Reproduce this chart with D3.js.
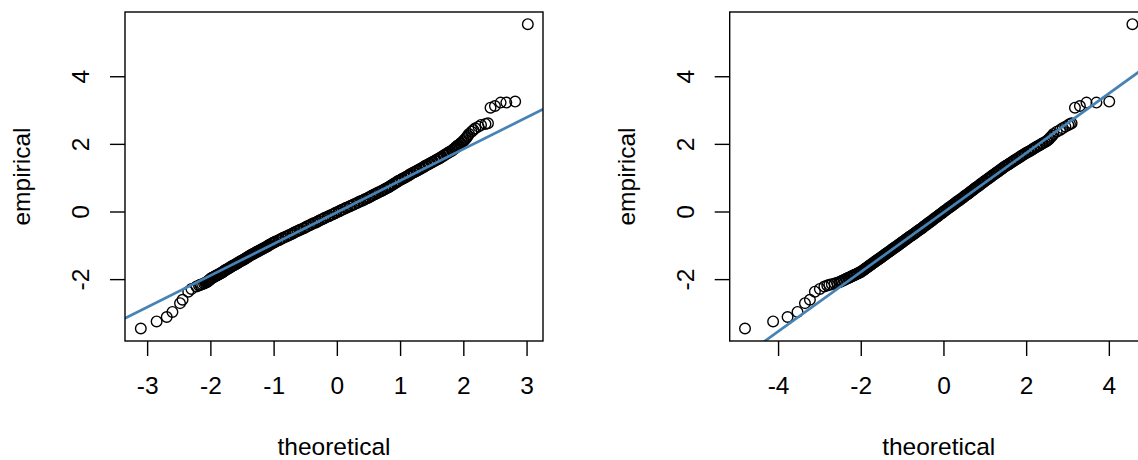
<!DOCTYPE html>
<html>
<head>
<meta charset="utf-8">
<script src="https://cdn.jsdelivr.net/npm/d3@7"></script>
<style>
  html, body { margin: 0; padding: 0; background: #fff; }
  svg { display: block; }
  text { font-family: "Liberation Sans", Arial, Helvetica, sans-serif; fill: #000; }
</style>
</head>
<body>
<svg id="chart" width="1138" height="460"></svg>
<script>
// ---- data (sorted empirical sample, with theoretical quantiles for each panel) ----
const empirical = [
  -3.46,-3.25,-3.12,-2.97,-2.71,-2.61,-2.37,-2.29,-2.22,-2.19,-2.17,-2.15,
  -2.13,-2.11,-2.09,-2.08,-2.06,-2.05,-2.03,-2.02,-2.00,-1.99,-1.97,-1.96,-1.95,-1.93,-1.92,-1.91,-1.89,-1.88,-1.87,-1.85,-1.84,-1.83,-1.81,-1.80,
  -1.78,-1.76,-1.74,-1.72,-1.70,-1.68,-1.66,-1.64,-1.62,-1.60,
  -1.58,-1.56,-1.54,-1.52,-1.50,-1.48,-1.46,-1.44,-1.42,-1.40,
  -1.38,-1.36,-1.34,-1.32,-1.30,-1.28,-1.26,-1.24,-1.22,-1.20,
  -1.18,-1.16,-1.14,-1.12,-1.10,-1.08,-1.06,-1.04,-1.02,-1.00,
  -0.98,-0.96,-0.94,-0.92,-0.90,
  -0.88,-0.85,-0.83,-0.80,-0.78,-0.75,-0.73,-0.70,-0.68,-0.65,
  -0.63,-0.60,-0.58,-0.55,-0.53,-0.50,-0.48,-0.45,-0.43,-0.40,
  -0.38,-0.35,-0.33,-0.30,-0.28,-0.25,-0.23,-0.20,-0.18,-0.15,
  -0.13,-0.10,-0.08,-0.05,-0.03,0.00,0.02,0.05,0.07,0.10,
  0.12,0.15,0.17,0.20,0.22,0.25,0.27,0.30,0.32,0.35,
  0.37,0.40,0.42,0.45,0.47,0.50,0.52,0.55,0.57,0.60,
  0.62,0.65,0.67,0.70,0.72,0.75,0.77,0.80,0.82,0.85,
  0.87,0.90,
  0.92,0.95,0.97,1.00,1.02,1.05,1.07,1.10,1.12,1.15,
  1.17,1.20,1.22,1.25,1.27,1.30,1.32,1.35,1.37,1.40,
  1.42,1.45,1.47,1.50,1.52,1.55,1.57,1.60,1.62,1.65,
  1.67,1.70,1.72,1.75,1.77,1.80,1.82,1.85,1.87,1.90,
  1.92,1.95,1.97,2.00,2.02,2.05,2.08,2.11,2.14,2.17,
  2.20,2.24,
  2.29,2.36,2.41,2.46,2.51,2.56,2.59,2.61,3.07,3.12,3.22,3.22,3.25,5.54
];
const theoreticalLeft = [
  -3.10,-2.85,-2.69,-2.60,-2.48,-2.44,-2.35,-2.30,-2.22,-2.18,-2.16,-2.13,
  -2.10,-2.08,-2.06,-2.05,-2.04,-2.03,-2.02,-2.01,-2.00,-1.99,-1.98,-1.97,-1.96,-1.94,-1.93,-1.92,-1.90,-1.89,-1.88,-1.86,-1.85,-1.84,-1.82,-1.81,
  -1.80,-1.78,-1.77,-1.75,-1.73,-1.71,-1.69,-1.68,-1.66,-1.64,
  -1.62,-1.60,-1.58,-1.57,-1.55,-1.53,-1.51,-1.49,-1.47,-1.45,
  -1.44,-1.42,-1.40,-1.39,-1.37,-1.35,-1.33,-1.31,-1.29,-1.27,
  -1.25,-1.23,-1.21,-1.19,-1.17,-1.15,-1.13,-1.11,-1.09,-1.08,
  -1.06,-1.04,-1.02,-1.00,-0.98,
  -0.96,-0.92,-0.90,-0.87,-0.85,-0.81,-0.79,-0.76,-0.73,-0.70,
  -0.68,-0.65,-0.62,-0.59,-0.57,-0.53,-0.51,-0.48,-0.46,-0.42,
  -0.40,-0.37,-0.34,-0.31,-0.29,-0.26,-0.23,-0.20,-0.18,-0.14,
  -0.12,-0.09,-0.06,-0.03,-0.01,0.03,0.05,0.08,0.11,0.14,
  0.16,0.20,0.22,0.26,0.28,0.32,0.34,0.37,0.40,0.43,
  0.45,0.49,0.51,0.54,0.56,0.59,0.61,0.64,0.66,0.70,
  0.72,0.75,0.77,0.80,0.82,0.84,0.86,0.89,0.90,0.93,
  0.95,0.97,
  0.99,1.02,1.04,1.07,1.09,1.12,1.14,1.16,1.18,1.21,
  1.23,1.26,1.28,1.31,1.33,1.36,1.38,1.40,1.42,1.45,
  1.47,1.50,1.52,1.55,1.57,1.60,1.62,1.64,1.66,1.69,
  1.70,1.73,1.75,1.77,1.79,1.82,1.83,1.85,1.87,1.88,
  1.90,1.91,1.93,1.95,1.96,1.98,2.00,2.01,2.03,2.04,
  2.06,2.07,
  2.09,2.13,2.16,2.19,2.24,2.28,2.35,2.39,2.43,2.50,2.59,2.68,2.82,3.02
];
const theoreticalRight = [
  -4.80,-4.12,-3.77,-3.53,-3.35,-3.23,-3.11,-2.99,-2.88,-2.81,-2.76,-2.70,
  -2.63,-2.57,-2.52,-2.50,-2.47,-2.45,-2.41,-2.40,-2.36,-2.35,-2.31,-2.29,-2.28,-2.24,-2.23,-2.21,-2.17,-2.16,-2.14,-2.10,-2.09,-2.07,-2.03,-2.02,
  -1.99,-1.97,-1.94,-1.92,-1.90,-1.88,-1.85,-1.83,-1.81,-1.79,
  -1.76,-1.74,-1.72,-1.70,-1.67,-1.65,-1.63,-1.60,-1.58,-1.56,
  -1.53,-1.51,-1.49,-1.47,-1.44,-1.42,-1.40,-1.38,-1.35,-1.33,
  -1.31,-1.28,-1.26,-1.24,-1.22,-1.19,-1.17,-1.15,-1.12,-1.10,
  -1.08,-1.06,-1.03,-1.01,-0.99,
  -0.97,-0.93,-0.91,-0.88,-0.85,-0.82,-0.80,-0.76,-0.74,-0.70,
  -0.68,-0.65,-0.62,-0.59,-0.57,-0.53,-0.51,-0.48,-0.46,-0.42,
  -0.40,-0.37,-0.35,-0.32,-0.29,-0.26,-0.24,-0.21,-0.18,-0.15,
  -0.13,-0.10,-0.08,-0.04,-0.02,0.01,0.03,0.07,0.09,0.12,
  0.14,0.18,0.20,0.23,0.26,0.29,0.31,0.34,0.37,0.40,
  0.42,0.46,0.48,0.51,0.53,0.57,0.59,0.62,0.64,0.67,
  0.70,0.73,0.75,0.78,0.80,0.84,0.86,0.89,0.91,0.95,
  0.97,1.00,
  1.02,1.06,1.08,1.11,1.14,1.17,1.19,1.23,1.25,1.28,
  1.31,1.34,1.36,1.40,1.42,1.45,1.48,1.51,1.54,1.58,
  1.60,1.64,1.67,1.70,1.73,1.77,1.79,1.83,1.86,1.89,
  1.92,1.96,1.99,2.03,2.06,2.10,2.13,2.17,2.19,2.24,
  2.26,2.31,2.33,2.38,2.40,2.45,2.49,2.52,2.55,2.57,
  2.60,2.63,
  2.66,2.74,2.82,2.88,2.95,3.02,3.06,3.10,3.18,3.30,3.46,3.70,4.01,4.57
];
// reference lines: [intercept, slope]
const lineLeft = [-0.025, 0.935];
const lineRight = [-0.03, 0.88];
// axis ticks
const xTicksLeft = [-3, -2, -1, 0, 1, 2, 3];
const xTicksRight = [-4, -2, 0, 2, 4];
const yTicks = [-2, 0, 2, 4];
const xLabel = "theoretical";
const yLabel = "empirical";

// ---- drawing ----
const svg = d3.select("#chart");
const plotTop = 12, plotBottom = 341;
const y = d3.scaleLinear().domain([-3.83, 5.90]).range([plotBottom, plotTop]);

const panels = [
  { left: 125, right: 543, domain: [-3.35, 3.26], theo: theoreticalLeft, ticks: xTicksLeft, line: lineLeft },
  { left: 729.7, right: 1147.7, domain: [-5.17, 4.94], theo: theoreticalRight, ticks: xTicksRight, line: lineRight }
];

const fontSize = 24.5;
const fmt = d => d < 0 ? "-" + Math.abs(d) : String(d);

panels.forEach((p, i) => {
  const x = d3.scaleLinear().domain(p.domain).range([p.left, p.right]);
  const g = svg.append("g");
  const clipId = "clip" + i;
  svg.append("defs").append("clipPath").attr("id", clipId)
    .append("rect").attr("x", p.left).attr("y", plotTop)
    .attr("width", p.right - p.left).attr("height", plotBottom - plotTop);

  // points
  const n = Math.min(empirical.length, p.theo.length);
  g.append("g")
    .selectAll("circle")
    .data(d3.range(n))
    .join("circle")
    .attr("cx", k => x(p.theo[k]))
    .attr("cy", k => y(empirical[k]))
    .attr("r", 5.3)
    .attr("fill", "none")
    .attr("stroke", "#000")
    .attr("stroke-width", 1.4);

  // reference line
  const [a, b] = p.line;
  g.append("line")
    .attr("clip-path", `url(#${clipId})`)
    .attr("x1", x(p.domain[0])).attr("y1", y(a + b * p.domain[0]))
    .attr("x2", x(p.domain[1])).attr("y2", y(a + b * p.domain[1]))
    .attr("stroke", "#4682B4")
    .attr("stroke-width", 2.7);

  // box
  g.append("rect")
    .attr("x", p.left).attr("y", plotTop)
    .attr("width", p.right - p.left).attr("height", plotBottom - plotTop)
    .attr("fill", "none").attr("stroke", "#000").attr("stroke-width", 1.4);

  // x axis
  const xAxis = d3.axisBottom(x).tickValues(p.ticks).tickSize(15).tickPadding(21)
    .tickFormat(fmt);
  const gx = g.append("g").attr("transform", `translate(0,${plotBottom})`).call(xAxis);
  gx.select(".domain").remove();
  gx.selectAll(".tick line").attr("stroke", "#000").attr("stroke-width", 1.4);
  gx.selectAll(".tick text").attr("font-size", fontSize);

  // y axis
  const yAxis = d3.axisLeft(y).tickValues(yTicks).tickSize(15).tickPadding(0)
    .tickFormat(fmt);
  const gy = g.append("g").attr("transform", `translate(${p.left},0)`).call(yAxis);
  gy.select(".domain").remove();
  gy.selectAll(".tick line").attr("stroke", "#000").attr("stroke-width", 1.4);
  gy.selectAll(".tick text")
    .attr("font-size", fontSize)
    .attr("x", null).attr("dy", null)
    .attr("text-anchor", "middle")
    .attr("transform", "translate(-36,0) rotate(-90)");
  svg.selectAll(".tick text").attr("font-family", null);
  svg.selectAll("g[font-family]").attr("font-family", null).attr("font-size", null);

  // axis titles
  g.append("text")
    .attr("x", (p.left + p.right) / 2).attr("y", 455)
    .attr("text-anchor", "middle").attr("font-size", fontSize)
    .text(xLabel);
  g.append("text")
    .attr("transform", `translate(${p.left - 95},${(plotTop + plotBottom) / 2}) rotate(-90)`)
    .attr("text-anchor", "middle").attr("font-size", fontSize)
    .text(yLabel);
});
</script>
</body>
</html>
